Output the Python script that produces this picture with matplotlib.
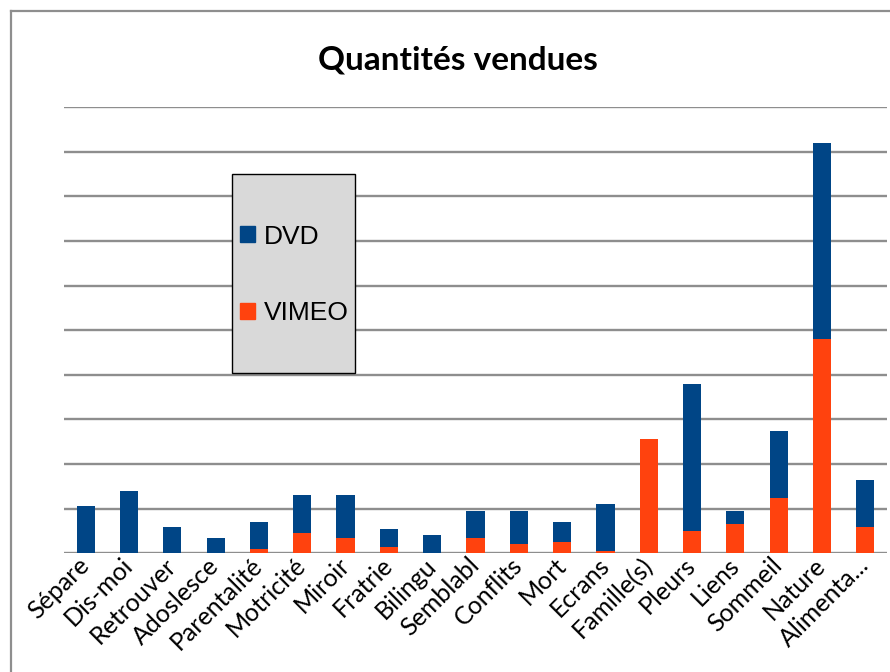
import numpy as np
import matplotlib
matplotlib.use("Agg")
import matplotlib.pyplot as plt
from matplotlib.patches import Rectangle, Patch
from matplotlib.lines import Line2D

# ----------------- DATA -----------------
categories = ["Sépare", "Dis-moi", "Retrouver", "Adoslesce", "Parentalité",
              "Motricité", "Miroir", "Fratrie", "Bilingu", "Semblabl",
              "Conflits", "Mort", "Ecrans", "Famille(s)", "Pleurs", "Liens",
              "Sommeil", "Nature", "Alimenta..."]
vimeo = [0, 0, 0, 0, 2, 9, 7, 3, 0, 7, 4, 5, 1, 51, 10, 13, 25, 96, 12]
dvd = [21, 28, 12, 7, 12, 17, 19, 8, 8, 12, 15, 9, 21, 0, 66, 6, 30, 88, 21]
title = "Quantités vendues"
# ----------------------------------------

DVD_COLOR = "#004586"
VIMEO_COLOR = "#ff420e"
GRID_COLOR = "#8e8e8e"

W, H = 890, 672
fig = plt.figure(figsize=(W / 100, H / 100), dpi=100)
ax = fig.add_axes([64 / W, 1 - 553.3 / H, (887 - 64) / W, (553.3 - 107) / H])

x = np.arange(len(categories))
ax.bar(x, vimeo, width=0.42, color=VIMEO_COLOR, zorder=3)
ax.bar(x, dvd, width=0.42, bottom=vimeo, color=DVD_COLOR, zorder=3)

ax.set_xlim(-0.5, len(categories) - 0.5)
ax.set_ylim(0, 200)
ax.set_yticks(np.arange(0, 201, 20))
ax.yaxis.grid(True, color=GRID_COLOR, lw=1.7, zorder=0)
ax.tick_params(axis="y", left=False, labelleft=False)
ax.tick_params(axis="x", length=0, pad=6)
for s in ax.spines.values():
    s.set_visible(False)

ax.set_xticks(x)
ax.set_xticklabels(categories, rotation=45, ha="right", va="center",
                   rotation_mode="anchor", fontsize=18, family="Lato")

# title
fig.text(457.5 / W, 1 - 70 / H, title, ha="center", va="baseline",
         fontsize=24, fontweight="bold", family="Lato")

# legend box (grey panel) + entries
fig.add_artist(Rectangle((232 / W, 1 - 373 / H), 123 / W, 199 / H,
                         transform=fig.transFigure, facecolor="#d9d9d9",
                         edgecolor="black", lw=1, zorder=5))
handles = [Patch(color=DVD_COLOR, label="DVD"), Patch(color=VIMEO_COLOR, label="VIMEO")]
leg = fig.legend(handles=handles, loc="center left",
                 bbox_to_anchor=(240 / W, 1 - 275 / H),
                 bbox_transform=fig.transFigure, frameon=False,
                 prop={"family": "Liberation Sans", "size": 19},
                 handlelength=0.55, handleheight=0.55, handletextpad=0.35,
                 labelspacing=2.0, borderpad=0, borderaxespad=0)
leg.set_zorder(6)

# outer chart border (left + top)
fig.add_artist(Line2D([10.5 / W, 10.5 / W], [0, 1 - 11 / H], transform=fig.transFigure,
                      color=GRID_COLOR, lw=1.6))
fig.add_artist(Line2D([10.5 / W, 1], [1 - 11 / H, 1 - 11 / H], transform=fig.transFigure,
                      color=GRID_COLOR, lw=1.6))

fig.savefig("out.png", dpi=100)
